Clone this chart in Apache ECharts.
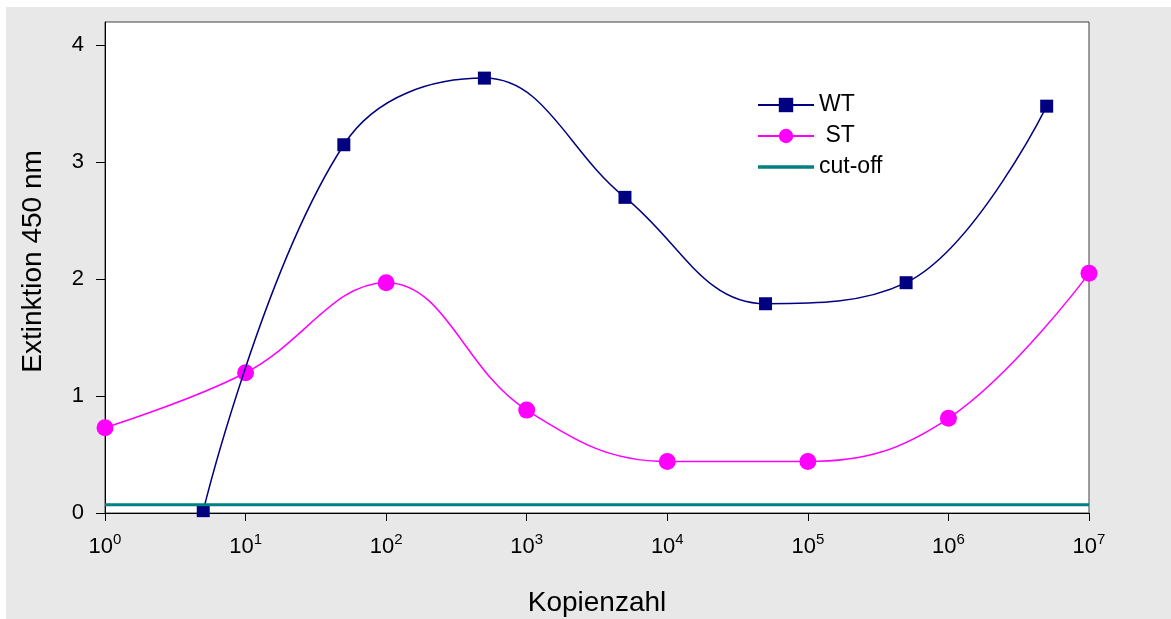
<!DOCTYPE html>
<html>
<head>
<meta charset="utf-8">
<script src="https://cdn.jsdelivr.net/npm/echarts@6/dist/echarts.min.js"></script>
<style>
  html, body { margin: 0; padding: 0; background: #ffffff; }
  #bg { position: absolute; left: 6px; top: 7px; width: 1165px; height: 612px; background: #e8e8e8; }
  #chart { position: absolute; left: 0; top: 0; width: 1171px; height: 619px; }
</style>
</head>
<body>
<div id="bg"></div>
<div id="chart"></div>
<script>
// Data
const wtCopies = [5, 50, 500, 5000, 50000, 500000, 5000000];
const wtValues = [0.02, 3.15, 3.72, 2.70, 1.79, 1.97, 3.48];
const stCopies = [1, 10, 100, 1000, 10000, 100000, 1000000, 10000000];
const stValues = [0.73, 1.20, 1.97, 0.88, 0.44, 0.44, 0.81, 2.05];
const cutoffCopies = [1, 10000000];
const cutoffValues = [0.07, 0.07];
const yTicks = [0, 1, 2, 3, 4];
const seriesNames = ['WT', ' ST', 'cut-off'];
const xTitle = 'Kopienzahl';
const yTitle = 'Extinktion 450 nm';

const pair = (xs, ys) => xs.map((x, i) => [x, ys[i]]);
const FONT = '"Liberation Sans", Arial, sans-serif';

const chart = echarts.init(document.getElementById('chart'), null, { renderer: 'canvas' });
chart.setOption({
  backgroundColor: 'transparent',
  animation: false,
  textStyle: { fontFamily: FONT, color: '#000' },
  grid: {
    left: 105, right: 82, top: 22, bottom: 106,
    containLabel: false, outerBoundsMode: 'none',
    show: true, backgroundColor: '#ffffff', borderColor: '#404040', borderWidth: 1
  },
  legend: {
    orient: 'vertical',
    left: 752, top: 88,
    itemWidth: 56, itemHeight: 18, itemGap: 7,
    textStyle: { fontSize: 23, fontFamily: FONT, color: '#000', lineHeight: 24 },
    data: [
      { name: seriesNames[0] },
      { name: seriesNames[1] },
      { name: seriesNames[2], icon: 'path://M0,0 L56,0 L56,3.5 L0,3.5 Z', itemStyle: { color: '#008080' } }
    ]
  },
  xAxis: {
    type: 'log', logBase: 10, min: 1, max: 10000000, interval: 1,
    name: xTitle, nameLocation: 'middle', nameGap: 76,
    nameTextStyle: { fontSize: 28, fontFamily: FONT, color: '#000' },
    axisLine: { show: true, lineStyle: { color: '#000', width: 1 } },
    axisTick: { show: true, inside: false, length: 8, lineStyle: { color: '#000' } },
    splitLine: { show: false },
    minorTick: { show: false },
    axisLabel: {
      margin: 19,
      formatter: function (v) {
        const e = Math.round(Math.log10(v));
        return '{b|10}{s|' + e + '}';
      },
      rich: {
        b: { fontSize: 22, fontFamily: FONT, color: '#000', lineHeight: 26, verticalAlign: 'bottom' },
        s: { fontSize: 15, fontFamily: FONT, color: '#000', lineHeight: 26, verticalAlign: 'top', padding: [0, 0, 12, 0] }
      }
    }
  },
  yAxis: {
    type: 'value', min: 0, max: 4.2, interval: 1,
    name: yTitle, nameLocation: 'middle', nameGap: 58, nameRotate: 90,
    nameTextStyle: { fontSize: 28, fontFamily: FONT, color: '#000', padding: [0, 0, 0, 12] },
    axisLine: { show: true, lineStyle: { color: '#000', width: 1 } },
    axisTick: { show: true, inside: false, length: 9, lineStyle: { color: '#000' }, customValues: yTicks },
    splitLine: { show: false },
    axisLabel: { margin: 21, fontSize: 22, fontFamily: FONT, color: '#000', customValues: yTicks }
  },
  series: [
    {
      name: seriesNames[0], type: 'line', smooth: 0.4,
      data: pair(wtCopies, wtValues),
      symbol: 'rect', symbolSize: 13,
      lineStyle: { color: '#000080', width: 1.5 },
      itemStyle: { color: '#000080' },
      z: 3
    },
    {
      name: seriesNames[1], type: 'line', smooth: 0.4,
      data: pair(stCopies, stValues),
      symbol: 'circle', symbolSize: 17,
      lineStyle: { color: '#ff00ff', width: 1.5 },
      itemStyle: { color: '#ff00ff' },
      z: 2
    },
    {
      name: seriesNames[2], type: 'line',
      data: pair(cutoffCopies, cutoffValues),
      symbol: 'none', showSymbol: false,
      lineStyle: { color: '#008080', width: 3 },
      itemStyle: { color: '#008080' },
      z: 4
    }
  ]
});
</script>
</body>
</html>
